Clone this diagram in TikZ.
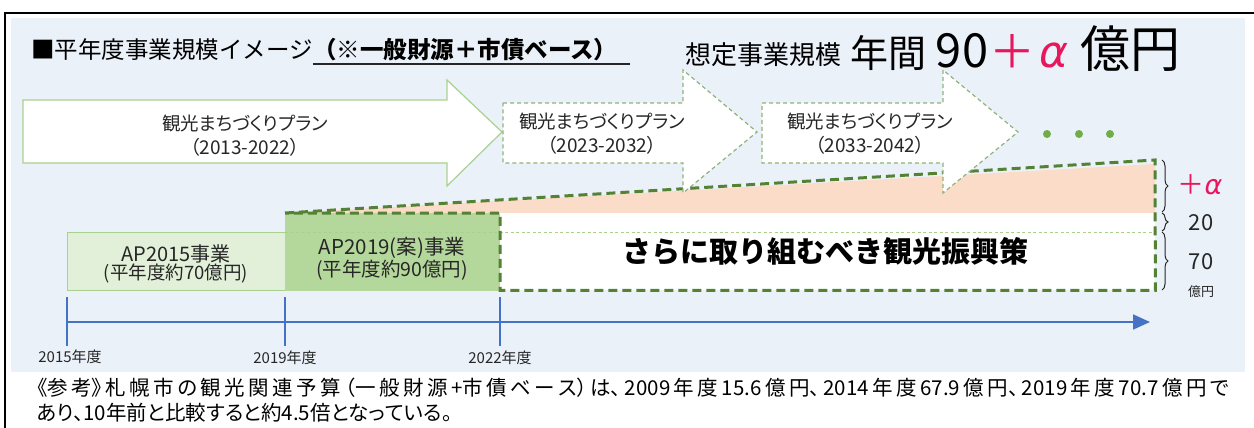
\documentclass[tikz,border=0pt]{standalone}
\usepackage{fontspec}
\setmainfont{Noto Sans CJK JP}
\newfontfamily\jpp{Noto Sans CJK JP}[RawFeature=+palt]
\newfontfamily\grk{DejaVu Sans}
\usetikzlibrary{decorations.pathreplacing,arrows.meta}
\definecolor{panel}{HTML}{EBF1F9}
\definecolor{lgreen}{HTML}{A9D18E}
\definecolor{pgreen}{HTML}{E2F0D9}
\definecolor{mgreen}{HTML}{B4D79B}
\definecolor{dgreen}{HTML}{548235}
\definecolor{dashg}{HTML}{8FB47A}
\definecolor{dotg}{HTML}{70AD47}
\definecolor{peach}{HTML}{FADCC8}
\definecolor{pinkc}{HTML}{E8175D}
\definecolor{blueline}{HTML}{4472C4}
\definecolor{txt}{HTML}{262626}
\tikzset{
  solidarrow/.style={fill=white,draw=lgreen,line width=1.2pt,line join=miter},
  dasharrow/.style={fill=white,draw=dashg,line width=1.2pt,dash pattern=on 4pt off 3pt},
  bigdash/.style={draw=dgreen,line width=3pt,dash pattern=on 9pt off 5pt},
  arrowtext/.style={align=center,font=\jpp\fontsize{18.5}{24}\selectfont,text=txt,inner sep=0pt},
  boxtext/.style={align=center,text=txt,inner sep=0pt},
  tickline/.style={draw=blueline,line width=1.8pt},
  yearlabel/.style={font=\fontsize{15}{18}\selectfont,text=txt,inner sep=0pt},
  bracestyle/.style={draw=txt,line width=1pt,decorate,decoration={brace,amplitude=6pt}},
  scalelabel/.style={font=\fontsize{22}{26}\selectfont,text=txt,inner sep=0pt},
  headtext/.style={anchor=base,inner sep=0pt,text=black}
}
\begin{document}
\begin{tikzpicture}[x=1pt,y=-1pt]
\useasboundingbox (0,0) rectangle (1254,428);
\fill[white] (0,0) rectangle (1254,428);
\fill[panel] (11,18) rectangle (1245,372);
\draw[line width=1.6pt] (5,428) -- (5,13) -- (1254,13);

% title
\node[anchor=base west,font=\fontsize{23.5}{27}\selectfont,inner sep=0pt,text=black] (t1) at (31,59) {■平年度事業規模イメージ};
\node[anchor=base west,font=\fontsize{23.5}{27}\selectfont\bfseries,inner sep=0pt,text=black] (t2) at (t1.base east) {（※一般財源＋市債ベース）};
\draw[line width=1.2pt,txt] ([yshift=-5pt]t2.base west) -- ([yshift=-5pt,xshift=12pt]t2.base east);

% header
\node[headtext,font=\fontsize{26}{30}\selectfont] (h1) at (763,65) {想定事業規模};
\node[headtext,font=\fontsize{38}{42}\selectfont] (h2) at (888,67) {年間};
\node[headtext,font=\fontsize{47}{50}\selectfont] (h3) at (962,67) {90};
\node[headtext,font=\fontsize{46}{50}\selectfont,text=pinkc] (h4) at (1012,69) {＋};
\node[headtext,font=\fontsize{44}{48}\selectfont\grk\itshape,text=pinkc] (h5) at (1054,67) {α};
\node[headtext,font=\fontsize{50}{54}\selectfont] (h6) at (1130,68) {億円};

% peach area
\fill[peach] (285,213) -- (1155,164) -- (1155,213) -- cycle;

% boxes
\node[draw=lgreen,fill=pgreen,line width=1pt,minimum width=218pt,minimum height=58pt,anchor=north west,inner sep=0pt] (ap15) at (67,232) {};
\node[draw=mgreen,fill=mgreen,line width=1pt,minimum width=215pt,minimum height=77pt,anchor=north west,inner sep=0pt] (ap19) at (285,213) {};
\node[fill=white,minimum width=655pt,minimum height=77pt,anchor=north west,inner sep=0pt] (more) at (500,213) {};
\draw[lgreen,line width=0.9pt,dash pattern=on 3pt off 2.5pt] (ap19.west |- ap15.north) -- (more.east |- ap15.north);

% big dashed outline
\draw[bigdash] (ap19.north west) -- (1155,160) -- (more.south east) -- (more.south west) -- (more.north west) -- cycle;

% plan arrows
\draw[solidarrow] (23,100) -- (447,100) -- (447,80) -- (502,132) -- (447,186) -- (447,163) -- (23,163) -- cycle;
\draw[dasharrow] (503,103) -- (683,103) -- (683,70) -- (757,132) -- (683,193) -- (683,163) -- (503,163) -- cycle;
\draw[dasharrow] (762,103) -- (943,103) -- (943,70) -- (1018,132) -- (943,193) -- (943,163) -- (762,163) -- cycle;
\node[arrowtext] (p1) at (245,136) {観光まちづくりプラン\\{\fontsize{19}{24}\selectfont（2013-2022）}};
\node[arrowtext] (p2) at (602,134) {観光まちづくりプラン\\{\fontsize{19}{24}\selectfont（2023-2032）}};
\node[arrowtext] (p3) at (870,134) {観光まちづくりプラン\\{\fontsize{19}{24}\selectfont（2033-2042）}};
\fill[dotg] (1047,134) circle (4pt) (1079,134) circle (4pt) (1110,134) circle (4pt);

% box texts
\node[boxtext] (ap15t) at (176,264) {{\fontsize{20}{23}\selectfont AP2015事業}\\{\fontsize{18.5}{22}\selectfont (平年度約70億円)}};
\node[boxtext] (ap19t) at (392,259) {{\fontsize{20.5}{24}\selectfont AP2019(案)事業}\\{\fontsize{19.5}{23}\selectfont (平年度約90億円)}};
\node[boxtext,font=\fontsize{29}{32}\selectfont\bfseries,text=black] (moret) at (825,251) {さらに取り組むべき観光振興策};

% braces
\draw[bracestyle] (1162,160) -- (1162,212) coordinate[midway] (b1);
\draw[bracestyle] (1162,213) -- (1162,231) coordinate[midway] (b2);
\draw[bracestyle] (1162,232) -- (1162,290) coordinate[midway] (b3);
\node[font=\fontsize{27}{30}\selectfont,text=pinkc,inner sep=0pt] (la) at (1200,185) {＋{\grk\itshape α}};
\node[scalelabel] (l20) at (1201,223) {20};
\node[scalelabel] (l70) at (1201,262) {70};
\node[font=\fontsize{13}{15}\selectfont,text=txt,inner sep=0pt] (lunit) at (1201,292) {億円};

% timeline
\coordinate (ts) at (67,322);
\coordinate (te) at (1150,322);
\draw[tickline,-{Triangle[length=17pt,width=15pt]}] (ts) -- (te);
\coordinate (k1a) at (67,297); \coordinate (k1b) at (67,346);
\coordinate (k2a) at (285,297); \coordinate (k2b) at (285,346);
\coordinate (k3a) at (500,297); \coordinate (k3b) at (500,346);
\draw[tickline] (k1a) -- (k1b) (k2a) -- (k2b) (k3a) -- (k3b);
\node[yearlabel] (y1) at (70,357) {2015年度};
\node[yearlabel] (y2) at (285,358) {2019年度};
\node[yearlabel] (y3) at (500,358) {2022年度};

% note
\node[anchor=base west,inner sep=0pt,text=black] (note) at (37,395)
  {\parbox[t]{1192pt}{\jpp\fontsize{20.5}{25}\selectfont\parfillskip=0pt plus 1fill\relax
   \XeTeXlinebreaklocale "ja"\XeTeXlinebreakskip=0pt plus 1fil\relax
   《参考》札幌市の観光関連予算（一般財源+市債ベース）は、2009年度15.6億円、2014年度67.9億円、2019年度70.7億円で\linebreak
   あり、10年前と比較すると約4.5倍となっている。}};
\end{tikzpicture}
\end{document}
